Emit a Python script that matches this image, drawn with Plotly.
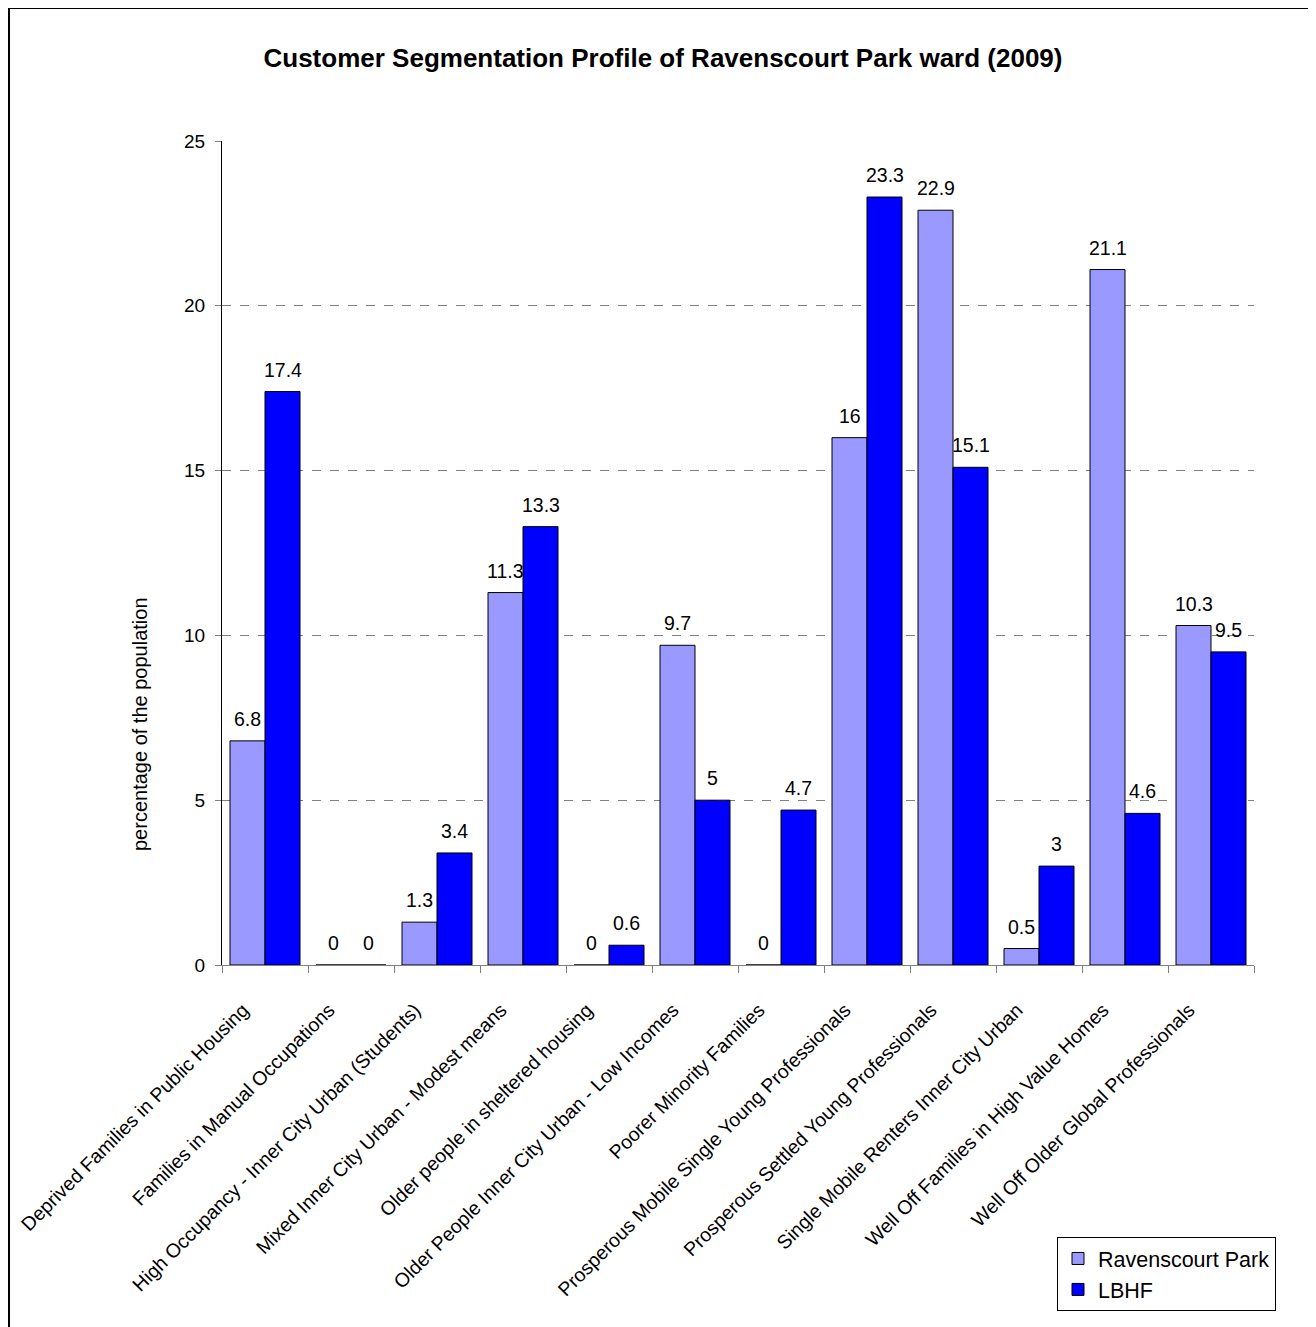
import plotly.graph_objects as go

categories = [
    "Deprived Families in Public Housing",
    "Families in Manual Occupations",
    "High Occupancy - Inner City Urban (Students)",
    "Mixed Inner City Urban - Modest means",
    "Older people in sheltered housing",
    "Older People Inner City Urban - Low Incomes",
    "Poorer Minority Families",
    "Prosperous Mobile Single Young Professionals",
    "Prosperous Settled Young Professionals",
    "Single Mobile Renters Inner City Urban",
    "Well Off Families in High Value Homes",
    "Well Off Older Global Professionals",
]
ravenscourt = [6.8, 0, 1.3, 11.3, 0, 9.7, 0, 16, 22.9, 0.5, 21.1, 10.3]
lbhf = [17.4, 0, 3.4, 13.3, 0.6, 5, 4.7, 23.3, 15.1, 3, 4.6, 9.5]
y_ticks = [0, 5, 10, 15, 20, 25]

FONT = "Liberation Sans, Arial, sans-serif"
BARGAP = 0.186

fig = go.Figure()
fig.add_trace(go.Bar(
    x=categories, y=ravenscourt, name="Ravenscourt Park",
    marker=dict(color="#9999FF", line=dict(color="black", width=1)),
))
fig.add_trace(go.Bar(
    x=categories, y=lbhf, name="LBHF",
    marker=dict(color="#0000FF", line=dict(color="black", width=1)),
))

W, H = 1316, 1327
OFF = 8  # page body margin
# plot area in screen pixels: x 222..1254, y 141..965
L = 222 - OFF
R = W - (1254 - OFF)
T = 141 - OFF
B = H - (965 - OFF)
pw = W - L - R
ph = H - T - B

def px(x):
    return (x - OFF - L) / pw

def py(y):
    return (H - B - (y - OFF)) / ph

# value labels above each bar (positioned in data coordinates)
half = (1 - BARGAP) / 4
annotations = []
for i, (a, b) in enumerate(zip(ravenscourt, lbhf)):
    for off, v in ((-half, a), (half, b)):
        annotations.append(dict(
            x=i + off, y=v, xref="x", yref="y", text=f"{v:g}",
            showarrow=False, yanchor="bottom", xanchor="center", yshift=9,
            font=dict(size=19.5, family=FONT, color="black"),
        ))

annotations.append(dict(
    text="percentage of the population", textangle=-90,
    x=px(140), y=py(724), xref="paper", yref="paper",
    xanchor="center", yanchor="middle", showarrow=False,
    font=dict(size=20, family=FONT, color="black"),
))

fig.update_layout(
    width=W, height=H,
    margin=dict(l=L, r=R, t=T, b=B, autoexpand=False),
    paper_bgcolor="white", plot_bgcolor="white",
    font=dict(family=FONT, size=19, color="black"),
    barmode="group", bargap=BARGAP, bargroupgap=0,
    title=dict(text="<b>Customer Segmentation Profile of Ravenscourt Park ward (2009)</b>",
               x=(663 - OFF) / W, xanchor="center", y=1 - (58 - OFF) / H, yanchor="middle",
               font=dict(size=26, family=FONT, color="black")),
    xaxis=dict(
        automargin=False,
        tickangle=-45, tickfont=dict(size=19.5, family=FONT),
        ticklabelstandoff=25, ticklabelshift=-22,
        showline=True, linecolor="#808080", linewidth=1,
        ticks="outside", ticklen=7, tickcolor="#808080", tickson="boundaries",
        showgrid=False,
    ),
    yaxis=dict(
        automargin=False,
        range=[0, 25], tickvals=y_ticks, tickfont=dict(size=19, family=FONT),
        ticklabelstandoff=6,
        showline=True, linecolor="black", linewidth=1,
        ticks="outside", ticklen=6, tickcolor="#808080",
        showgrid=True, gridcolor="#808080", griddash="dash", gridwidth=1,
        zeroline=False,
    ),
    legend=dict(
        x=px(1057), y=py(1237), xanchor="left", yanchor="top",
        bordercolor="black", borderwidth=1, bgcolor="white",
        font=dict(size=21.5, family=FONT), itemwidth=30, tracegroupgap=0,
    ),
    annotations=annotations,
    shapes=[dict(
        type="rect", xref="paper", yref="paper",
        x0=px(9), y0=py(1345), x1=px(1340), y1=py(8),
        line=dict(color="black", width=2), fillcolor="rgba(0,0,0,0)", layer="below",
    )],
)

fig.write_html("out.html")
